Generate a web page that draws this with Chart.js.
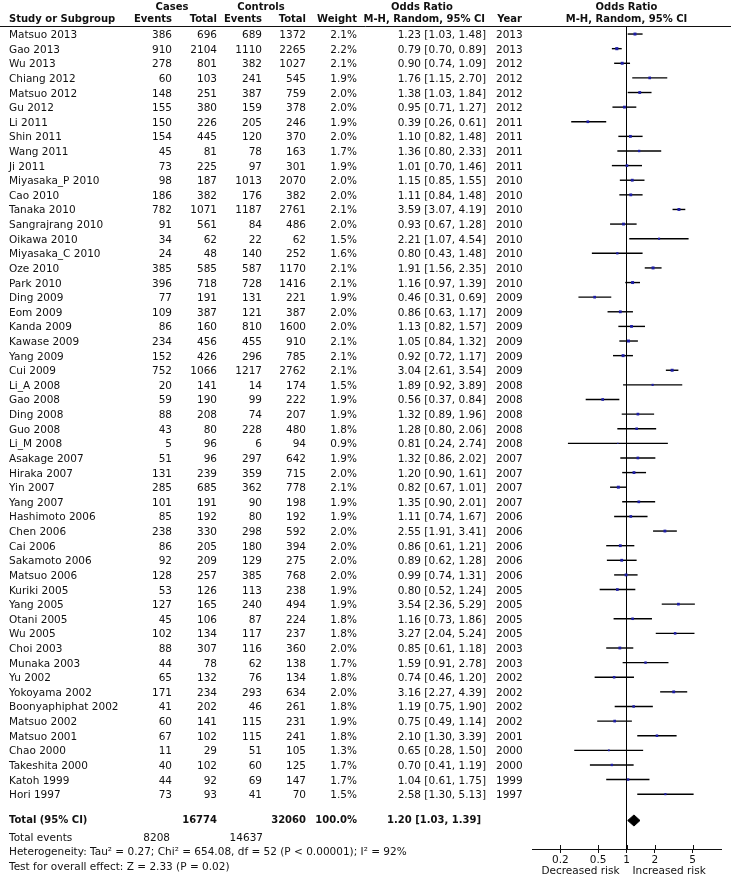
<!DOCTYPE html>
<html>
<head>
<meta charset="utf-8">
<script src="https://cdn.jsdelivr.net/npm/chart.js@4.4.1/dist/chart.umd.min.js"></script>
<style>
html, body { margin: 0; padding: 0; background: #fff; }
#wrap { position: relative; width: 731px; height: 875px; overflow: hidden;
  font-family: "DejaVu Sans", sans-serif; font-size: 10.5px; color: #111; }
#wrap canvas { position: absolute; left: 0; top: 0; }
.t { position: absolute; white-space: nowrap; line-height: 14px; }
.b { font-weight: bold; font-size: 10px; }
</style>
</head>
<body>
<div id="wrap"><canvas id="forest" width="731" height="875"></canvas></div>
<script>
// Forest plot data
const studies = [
  "Matsuo 2013", "Gao 2013", "Wu 2013", "Chiang 2012", "Matsuo 2012", "Gu 2012",
  "Li 2011", "Shin 2011", "Wang 2011", "Ji 2011", "Miyasaka_P 2010", "Cao 2010",
  "Tanaka 2010", "Sangrajrang 2010", "Oikawa 2010", "Miyasaka_C 2010", "Oze 2010",
  "Park 2010", "Ding 2009", "Eom 2009", "Kanda 2009", "Kawase 2009", "Yang 2009",
  "Cui 2009", "Li_A 2008", "Gao 2008", "Ding 2008", "Guo 2008", "Li_M 2008",
  "Asakage 2007", "Hiraka 2007", "Yin 2007", "Yang 2007", "Hashimoto 2006",
  "Chen 2006", "Cai 2006", "Sakamoto 2006", "Matsuo 2006", "Kuriki 2005",
  "Yang 2005", "Otani 2005", "Wu 2005", "Choi 2003", "Munaka 2003", "Yu 2002",
  "Yokoyama 2002", "Boonyaphiphat 2002", "Matsuo 2002", "Matsuo 2001", "Chao 2000",
  "Takeshita 2000", "Katoh 1999", "Hori 1997"
];
const casesEvents = [386, 910, 278, 60, 148, 155, 150, 154, 45, 73, 98, 186, 782, 91, 34, 24, 385,
  396, 77, 109, 86, 234, 152, 752, 20, 59, 88, 43, 5, 51, 131, 285, 101, 85, 238, 86, 92, 128,
  53, 127, 45, 102, 88, 44, 65, 171, 41, 60, 67, 11, 40, 44, 73];
const casesTotal = [696, 2104, 801, 103, 251, 380, 226, 445, 81, 225, 187, 382, 1071, 561, 62, 48,
  585, 718, 191, 387, 160, 456, 426, 1066, 141, 190, 208, 80, 96, 96, 239, 685, 191, 192, 330,
  205, 209, 257, 126, 165, 106, 134, 307, 78, 132, 234, 202, 141, 102, 29, 102, 92, 93];
const ctrlEvents = [689, 1110, 382, 241, 387, 159, 205, 120, 78, 97, 1013, 176, 1187, 84, 22, 140,
  587, 728, 131, 121, 810, 455, 296, 1217, 14, 99, 74, 228, 6, 297, 359, 362, 90, 80, 298, 180,
  129, 385, 113, 240, 87, 117, 116, 62, 76, 293, 46, 115, 115, 51, 60, 69, 41];
const ctrlTotal = [1372, 2265, 1027, 545, 759, 378, 246, 370, 163, 301, 2070, 382, 2761, 486, 62,
  252, 1170, 1416, 221, 387, 1600, 910, 785, 2762, 174, 222, 207, 480, 94, 642, 715, 778, 198,
  192, 592, 394, 275, 768, 238, 494, 224, 237, 360, 138, 134, 634, 261, 231, 241, 105, 125, 147, 70];
const weights = [2.1, 2.2, 2.1, 1.9, 2.0, 2.0, 1.9, 2.0, 1.7, 1.9, 2.0, 2.0, 2.1, 2.0, 1.5, 1.6, 2.1,
  2.1, 1.9, 2.0, 2.0, 2.1, 2.1, 2.1, 1.5, 1.9, 1.9, 1.8, 0.9, 1.9, 2.0, 2.1, 1.9, 1.9, 2.0, 2.0,
  2.0, 2.0, 1.9, 1.9, 1.8, 1.8, 2.0, 1.7, 1.8, 2.0, 1.8, 1.9, 1.8, 1.3, 1.7, 1.7, 1.5];
const oddsRatio = [1.23, 0.79, 0.90, 1.76, 1.38, 0.95, 0.39, 1.10, 1.36, 1.01, 1.15, 1.11, 3.59,
  0.93, 2.21, 0.80, 1.91, 1.16, 0.46, 0.86, 1.13, 1.05, 0.92, 3.04, 1.89, 0.56, 1.32, 1.28, 0.81,
  1.32, 1.20, 0.82, 1.35, 1.11, 2.55, 0.86, 0.89, 0.99, 0.80, 3.54, 1.16, 3.27, 0.85, 1.59, 0.74,
  3.16, 1.19, 0.75, 2.10, 0.65, 0.70, 1.04, 2.58];
const ciLow = [1.03, 0.70, 0.74, 1.15, 1.03, 0.71, 0.26, 0.82, 0.80, 0.70, 0.85, 0.84, 3.07, 0.67,
  1.07, 0.43, 1.56, 0.97, 0.31, 0.63, 0.82, 0.84, 0.72, 2.61, 0.92, 0.37, 0.89, 0.80, 0.24, 0.86,
  0.90, 0.67, 0.90, 0.74, 1.91, 0.61, 0.62, 0.74, 0.52, 2.36, 0.73, 2.04, 0.61, 0.91, 0.46, 2.27,
  0.75, 0.49, 1.30, 0.28, 0.41, 0.61, 1.30];
const ciHigh = [1.48, 0.89, 1.09, 2.70, 1.84, 1.27, 0.61, 1.48, 2.33, 1.46, 1.55, 1.48, 4.19, 1.28,
  4.54, 1.48, 2.35, 1.39, 0.69, 1.17, 1.57, 1.32, 1.17, 3.54, 3.89, 0.84, 1.96, 2.06, 2.74, 2.02,
  1.61, 1.01, 2.01, 1.67, 3.41, 1.21, 1.28, 1.31, 1.24, 5.29, 1.86, 5.24, 1.18, 2.78, 1.20, 4.39,
  1.90, 1.14, 3.39, 1.50, 1.19, 1.75, 5.13];
const years = [2013, 2013, 2012, 2012, 2012, 2012, 2011, 2011, 2011, 2011, 2010, 2010, 2010, 2010,
  2010, 2010, 2010, 2010, 2009, 2009, 2009, 2009, 2009, 2009, 2008, 2008, 2008, 2008, 2008, 2007,
  2007, 2007, 2007, 2006, 2006, 2006, 2006, 2006, 2005, 2005, 2005, 2005, 2003, 2003, 2002, 2002,
  2002, 2002, 2001, 2000, 2000, 1999, 1997];

const totalCases = 16774;
const totalControls = 32060;
const totalEventsCases = 8208;
const totalEventsControls = 14637;
const pooled = [1.20, 1.03, 1.39]; // OR, low, high
const xTicks = [0.2, 0.5, 1, 2, 5];

// row positions on the y scale
const totalRow = 53.8;
const diamondHalf = 0.38;

const fmt = v => v.toFixed(2);
const ciText = (o, l, h) => `${fmt(o)} [${fmt(l)}, ${fmt(h)}]`;

const ciSets = ciLow.map((lo, i) => ({
  data: [{ x: lo, y: i }, { x: ciHigh[i], y: i }],
  showLine: true,
  borderColor: "#000",
  borderWidth: 1.4,
  pointRadius: 0
}));

const forestChart = new Chart(document.getElementById("forest"), {
  type: "scatter",
  data: {
    datasets: [
      {
        data: oddsRatio.map((v, i) => ({ x: v, y: i })),
        pointStyle: "rect",
        pointRadius: weights,
        backgroundColor: "#1e1ea6",
        borderWidth: 0
      },
      {
        data: [
          { x: pooled[1], y: totalRow },
          { x: pooled[0], y: totalRow - diamondHalf },
          { x: pooled[2], y: totalRow },
          { x: pooled[0], y: totalRow + diamondHalf },
          { x: pooled[1], y: totalRow }
        ],
        showLine: true,
        fill: "shape",
        backgroundColor: "#000",
        borderColor: "#000",
        borderWidth: 1,
        pointRadius: 0
      },
      {
        data: [{ x: 1, y: -0.55 }, { x: 1, y: 55.75 }],
        showLine: true,
        borderColor: "#000",
        borderWidth: 1,
        pointRadius: 0
      },
      ...ciSets
    ]
  },
  options: {
    responsive: false,
    animation: false,
    devicePixelRatio: 1,
    events: [],
    layout: { padding: { left: 532, right: 10, top: 26, bottom: 6 } },
    plugins: { legend: { display: false }, tooltip: { enabled: false } },
    scales: {
      x: {
        type: "logarithmic",
        min: 0.1,
        max: 10,
        afterBuildTicks: ax => { ax.ticks = xTicks.map(v => ({ value: v })); },
        afterFit: ax => { ax.height = 20; },
        grid: { drawOnChartArea: false, tickLength: 4, color: "#111" },
        border: { color: "#111", width: 1 },
        ticks: {
          color: "#111",
          padding: 1,
          autoSkip: false,
          maxRotation: 0,
          font: { family: "DejaVu Sans", size: 10.5 },
          callback: v => String(v)
        }
      },
      y: { type: "linear", display: false, reverse: true, min: -0.55, max: 55.75 }
    }
  },
  plugins: [{
    id: "forestExtras",
    afterDraw(chart) {
      const { ctx, chartArea, scales } = chart;
      ctx.save();
      ctx.strokeStyle = "#111";
      ctx.lineWidth = 1;
      // header rule
      ctx.beginPath();
      ctx.moveTo(0, chartArea.top + 0.5);
      ctx.lineTo(chart.width, chartArea.top + 0.5);
      ctx.stroke();
      // upper half of tick marks
      xTicks.forEach(v => {
        const px = Math.round(scales.x.getPixelForValue(v)) + 0.5;
        ctx.beginPath();
        ctx.moveTo(px, chartArea.bottom - 4);
        ctx.lineTo(px, chartArea.bottom);
        ctx.stroke();
      });
      ctx.restore();
    }
  }]
});

// ==========================================
// TABLE TEXT (positioned from the chart's y scale)
// ==========================================
const wrap = document.getElementById("wrap");
const yScale = forestChart.scales.y;
const xScale = forestChart.scales.x;

function addText(txt, x, row, align, bold) {
  const d = document.createElement("div");
  d.className = "t" + (bold ? " b" : "");
  d.textContent = txt;
  d.style.top = (yScale.getPixelForValue(row) - 7) + "px";
  if (align === "right") {
    d.style.right = (731 - x) + "px";
  } else if (align === "center") {
    d.style.left = x + "px";
    d.style.transform = "translateX(-50%)";
  } else {
    d.style.left = x + "px";
  }
  wrap.appendChild(d);
}

const plotMid = xScale.getPixelForValue(1);

// headers
addText("Cases", 172, -1.85, "center", true);
addText("Controls", 261, -1.85, "center", true);
addText("Odds Ratio", 422, -1.85, "center", true);
addText("Odds Ratio", plotMid, -1.85, "center", true);
addText("Study or Subgroup", 9, -1.0, "left", true);
addText("Events", 172, -1.0, "right", true);
addText("Total", 217, -1.0, "right", true);
addText("Events", 262, -1.0, "right", true);
addText("Total", 306, -1.0, "right", true);
addText("Weight", 357, -1.0, "right", true);
addText("M-H, Random, 95% CI", 485, -1.0, "right", true);
addText("Year", 522, -1.0, "right", true);
addText("M-H, Random, 95% CI", plotMid, -1.0, "center", true);

// study rows
studies.forEach((name, i) => {
  addText(name, 9, i, "left");
  addText(casesEvents[i].toString(), 172, i, "right");
  addText(casesTotal[i].toString(), 217, i, "right");
  addText(ctrlEvents[i].toString(), 262, i, "right");
  addText(ctrlTotal[i].toString(), 306, i, "right");
  addText(weights[i].toFixed(1) + "%", 357, i, "right");
  addText(ciText(oddsRatio[i], ciLow[i], ciHigh[i]), 486, i, "right");
  addText(years[i].toString(), 496, i, "left");
});

// totals
addText("Total (95% CI)", 9, totalRow, "left", true);
addText(totalCases.toString(), 217, totalRow, "right", true);
addText(totalControls.toString(), 306, totalRow, "right", true);
addText("100.0%", 357, totalRow, "right", true);
addText(ciText(pooled[0], pooled[1], pooled[2]), 481, totalRow, "right", true);
addText("Total events", 9, totalRow + 1.1, "left");
addText(totalEventsCases.toString(), 170, totalRow + 1.1, "right");
addText(totalEventsControls.toString(), 263, totalRow + 1.1, "right");
addText("Heterogeneity: Tau² = 0.27; Chi² = 654.08, df = 52 (P < 0.00001); I² = 92%", 9, totalRow + 2.1, "left");
addText("Test for overall effect: Z = 2.33 (P = 0.02)", 9, totalRow + 3.1, "left");

// axis captions
addText("Decreased risk", plotMid - 7, 57.2, "right");
addText("Increased risk", plotMid + 6, 57.2, "left");
</script>
</body>
</html>
